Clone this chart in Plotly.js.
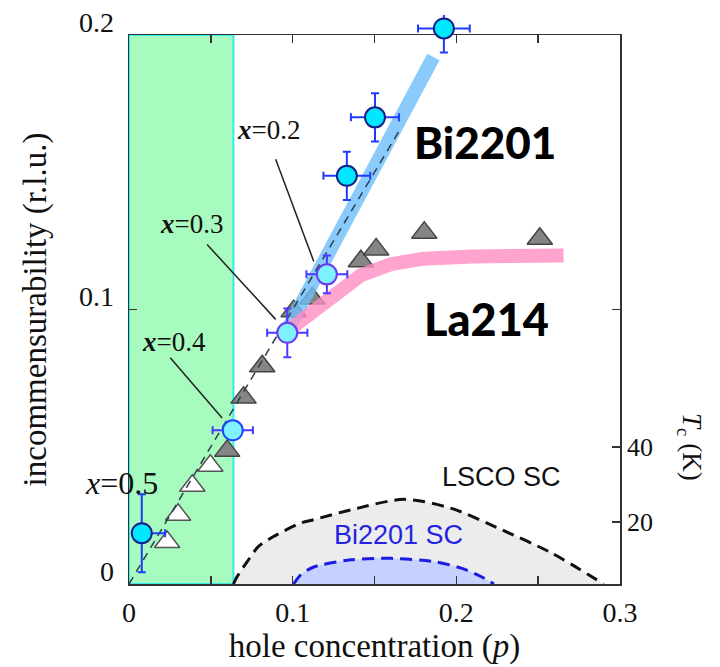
<!DOCTYPE html>
<html>
<head>
<meta charset="utf-8">
<script src="https://cdn.plot.ly/plotly-3.0.1.min.js"></script>
<style>html,body{margin:0;padding:0;background:#fff;}#chart{width:720px;height:667px;}</style>
</head>
<body>
<div id="chart"></div>
<script>
// ---- data ----
// La214 (triangles): hole concentration p, incommensurability
const triWhiteP = [0.0233, 0.0300, 0.0387, 0.0497];
const triWhiteQ = [0.0153, 0.0252, 0.0358, 0.0431];
const triGrayP  = [0.0600, 0.0700, 0.0814, 0.1006, 0.1120, 0.1417, 0.1510, 0.1804, 0.2510];
const triGrayQ  = [0.0485, 0.0679, 0.0793, 0.0994, 0.1040, 0.1176, 0.1219, 0.1280, 0.1258];

// Bi2201 (circles with error bars)
const biP        = [0.0078, 0.0634, 0.0967, 0.1209, 0.1331, 0.1503, 0.1924];
const biQ        = [0.0185, 0.0560, 0.0915, 0.1128, 0.1487, 0.1700, 0.2024];
const biPerr     = [0.0143, 0.0123, 0.0123, 0.0125, 0.0143, 0.0147, 0.0158];
const biPerrMinus= [0.0050, 0.0123, 0.0123, 0.0125, 0.0143, 0.0147, 0.0158];
const biQerr     = [0.0142, 0.0000, 0.0089, 0.0069, 0.0088, 0.0088, 0.0088];
const biDoping   = ['0.5', '0.4', '0.3', '0.2', '', '', ''];

// guide bands
const bandBiP = [0.0975, 0.186];
const bandBiQ = [0.0934, 0.192];
const bandLaP = [0.0975, 0.1417, 0.160, 0.180, 0.210, 0.2655];
const bandLaQ = [0.0925, 0.1125, 0.1165, 0.1185, 0.1193, 0.1197];
const guideP  = [0, 0.165];
const guideQ  = [0, 0.165];

// superconducting domes (Tc in K, right axis)
const lscoP  = [0.0638, 0.066, 0.0722, 0.079, 0.0883, 0.1049, 0.1129, 0.1356, 0.168, 0.197, 0.2277, 0.2583, 0.290];
const lscoTc = [3.47, 5.4, 9.4, 13.4, 16.1, 19.7, 20.6, 23.2, 26.0, 23.6, 17.9, 11.7, 3.47];
const biscP  = [0.1006, 0.1049, 0.1129, 0.1356, 0.160, 0.1865, 0.203, 0.2153, 0.223];
const biscTc = [3.47, 5.9, 8.0, 9.9, 10.3, 9.4, 7.7, 5.4, 3.47];

// shaded low-doping region
const regionP = [0, 0.0638];

// axis ticks
const xTicks = [0, 0.1, 0.2, 0.3];
const xTickText = ['0', '0.1', '0.2', '0.3'];
const xMinor = [0.05, 0.15, 0.25];
const yTicks = [0, 0.1, 0.2];
const yTickText = ['0', '0.1', '0.2'];
const tcTicks = [20, 40];

// doping label placement: [label p, label q, line from p, from q, to p, to q]
const labelPos = {
  '0.2': [0.0853, 0.1653, 0.0896, 0.1547, 0.1129, 0.1175],
  '0.3': [0.0380, 0.1310, 0.0477, 0.1237, 0.0896, 0.0964],
  '0.4': [0.0276, 0.0880, 0.0252, 0.0824, 0.0569, 0.0605],
  '0.5': [-0.0043, 0.0369, null, null, null, null]
};

const SERIF = 'Liberation Serif, Times New Roman, serif';
const SANS = 'Liberation Sans, Arial, sans-serif';
const HEAVY = 'Lato, DejaVu Sans, sans-serif';

// plot geometry: main frame 549 px tall, an extra 20 px headroom above it for the top point
const MAIN_H = 549, HEAD = 20;
const xMax = 0.3, yMax = 0.2;
const yDomTop = MAIN_H / (MAIN_H + HEAD);
const y3Max = yMax / yDomTop;
// convert data values to paper fractions (paper spans full x range and the y3 range)
const fx = p => p / xMax;
const fy = q => q / y3Max;

const solidIdx = [0, 4, 5, 6];
const lightIdx = [1, 2, 3];
const pick = (arr, idx) => idx.map(i => arr[i]);

const traces = [
  {x: lscoP, y: lscoTc, yaxis: 'y2', type: 'scatter', mode: 'lines', line: {color: '#111', width: 3, dash: '12px,7px', shape: 'spline', smoothing: 0.8},
   fill: 'tozeroy', fillcolor: '#ececec', hoverinfo: 'skip', showlegend: false},
  {x: biscP, y: biscTc, yaxis: 'y2', type: 'scatter', mode: 'lines', line: {color: '#1d1de0', width: 3, dash: '12px,7px', shape: 'spline', smoothing: 0.8},
   fill: 'tozeroy', fillcolor: '#c6d1ff', hoverinfo: 'skip', showlegend: false},
  {x: triWhiteP, y: triWhiteQ, type: 'scatter', mode: 'markers', cliponaxis: false,
   marker: {symbol: 'triangle-up', size: 22, color: '#ffffff', line: {color: '#555', width: 1.5}}, showlegend: false},
  {x: triGrayP, y: triGrayQ, type: 'scatter', mode: 'markers', cliponaxis: false,
   marker: {symbol: 'triangle-up', size: 22, color: '#858585', line: {color: '#444', width: 1.5}}, showlegend: false},
  {x: bandBiP, y: bandBiQ, type: 'scatter', mode: 'lines', line: {color: 'rgba(110,190,250,0.8)', width: 14}, showlegend: false},
  {x: bandLaP, y: bandLaQ, type: 'scatter', mode: 'lines', line: {color: 'rgba(255,140,195,0.8)', width: 14}, showlegend: false},
  {x: guideP, y: guideQ, type: 'scatter', mode: 'lines', line: {color: '#2b3f4f', width: 1.5, dash: '8px,6px'}, showlegend: false},
  {x: pick(biP, lightIdx), y: pick(biQ, lightIdx), yaxis: 'y3', type: 'scatter', mode: 'markers', cliponaxis: false,
   error_x: {type: 'data', array: pick(biPerr, lightIdx), arrayminus: pick(biPerrMinus, lightIdx), color: '#4a3aff', thickness: 2, width: 4},
   error_y: {type: 'data', array: pick(biQerr, lightIdx), color: '#4a3aff', thickness: 2, width: 4},
   marker: {symbol: 'circle', size: 20, color: '#7ff2ff', line: {color: ['#2244ff', '#6a3af0', '#6a3af0'], width: 2}}, showlegend: false},
  {x: pick(biP, solidIdx), y: pick(biQ, solidIdx), yaxis: 'y3', type: 'scatter', mode: 'markers', cliponaxis: false,
   error_x: {type: 'data', array: pick(biPerr, solidIdx), arrayminus: pick(biPerrMinus, solidIdx), color: '#1f3bff', thickness: 2, width: 4},
   error_y: {type: 'data', array: pick(biQerr, solidIdx), color: '#1f3bff', thickness: 2, width: 4},
   marker: {symbol: 'circle', size: 20, color: '#00e8ff', line: {color: '#14208a', width: 2}}, showlegend: false}
];

const shapes = [
  {type: 'rect', xref: 'x', yref: 'y', x0: regionP[0], x1: regionP[1], y0: 0, y1: yMax,
   fillcolor: '#a8fbbe', line: {color: '#30eeee', width: 2}, layer: 'below'}
];
const annotations = [];
biDoping.forEach(function (d) {
  if (!d) return;
  const L = labelPos[d];
  const plain = d === '0.5';
  const xpart = plain ? '<i>x</i>' : '<b><i>x</i></b>';
  annotations.push({x: fx(L[0]), y: fy(L[1]), xref: 'paper', yref: 'paper', text: xpart + '=' + d, showarrow: false,
    font: {family: SERIF, size: plain ? 32 : 27, color: '#111'}, xanchor: 'center', yanchor: 'middle'});
  if (L[2] !== null) {
    shapes.push({type: 'line', xref: 'x', yref: 'y', x0: L[2], y0: L[3], x1: L[4], y1: L[5], line: {color: '#222', width: 1.5}});
  }
});
function label(p, q, text, font) {
  annotations.push({x: fx(p), y: fy(q), xref: 'paper', yref: 'paper', text: text, showarrow: false,
    xanchor: 'center', yanchor: 'middle', font: font});
}
label(0.2178, 0.161, 'Bi2201', {family: HEAVY, size: 44, color: '#000', weight: 900});
label(0.2184, 0.0964, 'La214', {family: HEAVY, size: 45, color: '#000', weight: 900});
label(0.2276, 0.039, 'LSCO SC', {family: SANS, size: 27, color: '#111'});
label(0.1644, 0.0179, 'Bi2201 SC', {family: SANS, size: 27, color: '#2323e6'});
annotations.push({x: 1.1426, y: 0.2408, xref: 'paper', yref: 'paper', text: '<i>T</i><sub>c</sub> (K)',
  showarrow: false, textangle: 90, xanchor: 'center', yanchor: 'middle',
  font: {family: SERIF, size: 27, color: '#111'}});

const layout = {
  width: 720, height: 667,
  margin: {l: 129, r: 100, t: 35 - HEAD, b: 83},
  paper_bgcolor: '#fff', plot_bgcolor: 'rgba(0,0,0,0)',
  showlegend: false,
  xaxis: {
    range: [0, xMax], tickvals: xTicks, ticktext: xTickText,
    ticks: 'inside', ticklen: 8, tickwidth: 1.5, tickcolor: '#333',
    showline: true, linecolor: '#333', linewidth: 1.5, mirror: 'ticks',
    showgrid: false, zeroline: false,
    minor: {tickvals: xMinor, ticks: 'inside', ticklen: 8, tickwidth: 1.5, tickcolor: '#333'},
    tickfont: {family: SERIF, size: 28, color: '#111'}, ticklabelstandoff: 3,
    title: {text: 'hole concentration (<i>p</i>)', font: {family: SERIF, size: 33, color: '#111'}, standoff: 6}
  },
  yaxis: {
    domain: [0, yDomTop],
    range: [0, yMax], tickvals: yTicks, ticktext: yTickText,
    ticks: 'inside', ticklen: 8, tickwidth: 1.5, tickcolor: '#333',
    showline: true, linecolor: '#333', linewidth: 1.5, mirror: 'ticks',
    showgrid: false, zeroline: false,
    tickfont: {family: SERIF, size: 28, color: '#111'}, ticklabelstandoff: 8, ticklabelshift: -13,
    title: {text: 'incommensurability (r.l.u.)', font: {family: SERIF, size: 33, color: '#111'}, standoff: 22}
  },
  yaxis2: {
    overlaying: 'y', side: 'right', range: [3.47, 149.6], tickvals: tcTicks,
    ticks: 'inside', ticklen: 8, tickwidth: 1.5, tickcolor: '#333',
    showline: false, showgrid: false, zeroline: false,
    tickfont: {family: SERIF, size: 26, color: '#111'}, ticklabelstandoff: 6
  },
  yaxis3: {
    domain: [0, 1], anchor: 'x', range: [0, y3Max], visible: false,
    showgrid: false, zeroline: false, showline: false
  },
  shapes: shapes,
  annotations: annotations
};

Plotly.newPlot('chart', traces, layout, {displayModeBar: false, staticPlot: true});
</script>
</body>
</html>
